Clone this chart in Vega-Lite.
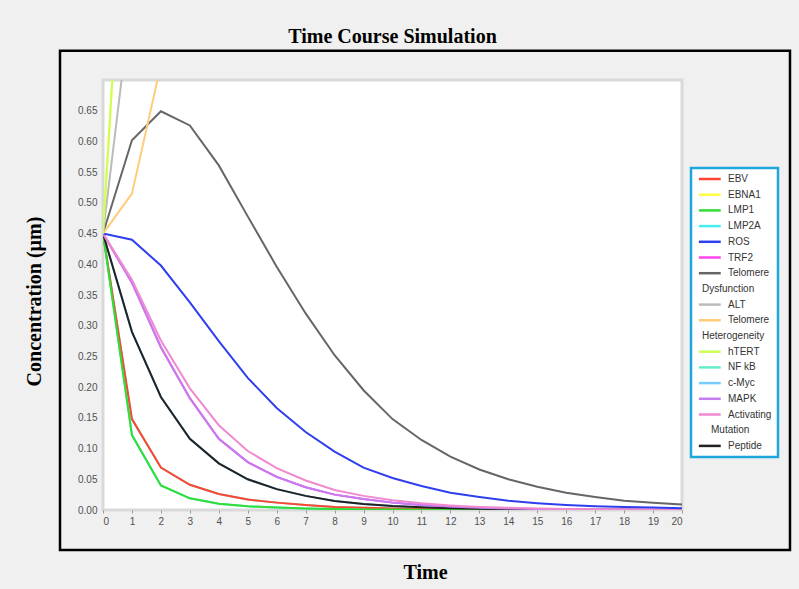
{
  "$schema": "https://vega.github.io/schema/vega-lite/v6.json",
  "autosize": {"type": "none"},
  "padding": {"left": 103, "top": 80, "right": 117, "bottom": 79},
  "width": 579,
  "height": 430,
  "background": "#f0f0f0",
  "title": {"text": "Time Course Simulation", "font": "Liberation Serif", "fontSize": 20, "fontWeight": "bold", "color": "#000000", "frame": "group", "anchor": "middle", "offset": 3},
  "config": {
    "view": {"fill": "#ffffff", "stroke": "#d9d9d9", "strokeWidth": 3},
    "axis": {"labelFont": "Liberation Sans", "labelFontSize": 10, "labelColor": "#505050", "labelOverlap": false, "titleFont": "Liberation Serif", "titleFontSize": 20, "titleFontWeight": "bold", "titleColor": "#000000", "grid": false, "domain": false}
  },
  "datasets": {
    "series": [
      {"s": "EBV", "t": 0, "v": 0.45}, {"s": "EBV", "t": 1, "v": 0.148}, {"s": "EBV", "t": 2, "v": 0.069}, {"s": "EBV", "t": 3, "v": 0.041}, {"s": "EBV", "t": 4, "v": 0.026}, {"s": "EBV", "t": 5, "v": 0.017}, {"s": "EBV", "t": 6, "v": 0.012}, {"s": "EBV", "t": 7, "v": 0.008}, {"s": "EBV", "t": 8, "v": 0.005}, {"s": "EBV", "t": 9, "v": 0.0035}, {"s": "EBV", "t": 10, "v": 0.0025}, {"s": "EBV", "t": 11, "v": 0.0018}, {"s": "EBV", "t": 12, "v": 0.0012}, {"s": "EBV", "t": 13, "v": 0.0008}, {"s": "EBV", "t": 14, "v": 0.0006}, {"s": "EBV", "t": 15, "v": 0.0004}, {"s": "EBV", "t": 16, "v": 0.0003}, {"s": "EBV", "t": 17, "v": 0.0002}, {"s": "EBV", "t": 18, "v": 0.0001}, {"s": "EBV", "t": 19, "v": 0.0001}, {"s": "EBV", "t": 20, "v": 0.0001},
      {"s": "NF kB", "t": 0, "v": 0.45}, {"s": "NF kB", "t": 1, "v": 0.148}, {"s": "NF kB", "t": 2, "v": 0.069}, {"s": "NF kB", "t": 3, "v": 0.041}, {"s": "NF kB", "t": 4, "v": 0.026}, {"s": "NF kB", "t": 5, "v": 0.017}, {"s": "NF kB", "t": 6, "v": 0.012}, {"s": "NF kB", "t": 7, "v": 0.008}, {"s": "NF kB", "t": 8, "v": 0.005}, {"s": "NF kB", "t": 9, "v": 0.0035}, {"s": "NF kB", "t": 10, "v": 0.0025}, {"s": "NF kB", "t": 11, "v": 0.0018}, {"s": "NF kB", "t": 12, "v": 0.0012}, {"s": "NF kB", "t": 13, "v": 0.0008}, {"s": "NF kB", "t": 14, "v": 0.0006}, {"s": "NF kB", "t": 15, "v": 0.0004}, {"s": "NF kB", "t": 16, "v": 0.0003}, {"s": "NF kB", "t": 17, "v": 0.0002}, {"s": "NF kB", "t": 18, "v": 0.0001}, {"s": "NF kB", "t": 19, "v": 0.0001}, {"s": "NF kB", "t": 20, "v": 0.0001},
      {"s": "LMP1", "t": 0, "v": 0.45}, {"s": "LMP1", "t": 1, "v": 0.122}, {"s": "LMP1", "t": 2, "v": 0.04}, {"s": "LMP1", "t": 3, "v": 0.019}, {"s": "LMP1", "t": 4, "v": 0.01}, {"s": "LMP1", "t": 5, "v": 0.006}, {"s": "LMP1", "t": 6, "v": 0.004}, {"s": "LMP1", "t": 7, "v": 0.0025}, {"s": "LMP1", "t": 8, "v": 0.0015}, {"s": "LMP1", "t": 9, "v": 0.001}, {"s": "LMP1", "t": 10, "v": 0.0007}, {"s": "LMP1", "t": 11, "v": 0.0005}, {"s": "LMP1", "t": 12, "v": 0.0003}, {"s": "LMP1", "t": 13, "v": 0.0002}, {"s": "LMP1", "t": 14, "v": 0.0001}, {"s": "LMP1", "t": 15, "v": 0.0001}, {"s": "LMP1", "t": 16, "v": 0}, {"s": "LMP1", "t": 17, "v": 0}, {"s": "LMP1", "t": 18, "v": 0}, {"s": "LMP1", "t": 19, "v": 0}, {"s": "LMP1", "t": 20, "v": 0},
      {"s": "LMP2A", "t": 0, "v": 0.45}, {"s": "LMP2A", "t": 1, "v": 0.122}, {"s": "LMP2A", "t": 2, "v": 0.04}, {"s": "LMP2A", "t": 3, "v": 0.019}, {"s": "LMP2A", "t": 4, "v": 0.01}, {"s": "LMP2A", "t": 5, "v": 0.006}, {"s": "LMP2A", "t": 6, "v": 0.004}, {"s": "LMP2A", "t": 7, "v": 0.0025}, {"s": "LMP2A", "t": 8, "v": 0.0015}, {"s": "LMP2A", "t": 9, "v": 0.001}, {"s": "LMP2A", "t": 10, "v": 0.0007}, {"s": "LMP2A", "t": 11, "v": 0.0005}, {"s": "LMP2A", "t": 12, "v": 0.0003}, {"s": "LMP2A", "t": 13, "v": 0.0002}, {"s": "LMP2A", "t": 14, "v": 0.0001}, {"s": "LMP2A", "t": 15, "v": 0.0001}, {"s": "LMP2A", "t": 16, "v": 0}, {"s": "LMP2A", "t": 17, "v": 0}, {"s": "LMP2A", "t": 18, "v": 0}, {"s": "LMP2A", "t": 19, "v": 0}, {"s": "LMP2A", "t": 20, "v": 0},
      {"s": "Peptide", "t": 0, "v": 0.45}, {"s": "Peptide", "t": 1, "v": 0.29}, {"s": "Peptide", "t": 2, "v": 0.184}, {"s": "Peptide", "t": 3, "v": 0.116}, {"s": "Peptide", "t": 4, "v": 0.076}, {"s": "Peptide", "t": 5, "v": 0.05}, {"s": "Peptide", "t": 6, "v": 0.034}, {"s": "Peptide", "t": 7, "v": 0.023}, {"s": "Peptide", "t": 8, "v": 0.0145}, {"s": "Peptide", "t": 9, "v": 0.0098}, {"s": "Peptide", "t": 10, "v": 0.0065}, {"s": "Peptide", "t": 11, "v": 0.0044}, {"s": "Peptide", "t": 12, "v": 0.003}, {"s": "Peptide", "t": 13, "v": 0.002}, {"s": "Peptide", "t": 14, "v": 0.0013}, {"s": "Peptide", "t": 15, "v": 0.0009}, {"s": "Peptide", "t": 16, "v": 0.0006}, {"s": "Peptide", "t": 17, "v": 0.0004}, {"s": "Peptide", "t": 18, "v": 0.0003}, {"s": "Peptide", "t": 19, "v": 0.0002}, {"s": "Peptide", "t": 20, "v": 0.0001},
      {"s": "c-Myc", "t": 0, "v": 0.45}, {"s": "c-Myc", "t": 1, "v": 0.29}, {"s": "c-Myc", "t": 2, "v": 0.184}, {"s": "c-Myc", "t": 3, "v": 0.116}, {"s": "c-Myc", "t": 4, "v": 0.076}, {"s": "c-Myc", "t": 5, "v": 0.05}, {"s": "c-Myc", "t": 6, "v": 0.034}, {"s": "c-Myc", "t": 7, "v": 0.023}, {"s": "c-Myc", "t": 8, "v": 0.0145}, {"s": "c-Myc", "t": 9, "v": 0.0098}, {"s": "c-Myc", "t": 10, "v": 0.0065}, {"s": "c-Myc", "t": 11, "v": 0.0044}, {"s": "c-Myc", "t": 12, "v": 0.003}, {"s": "c-Myc", "t": 13, "v": 0.002}, {"s": "c-Myc", "t": 14, "v": 0.0013}, {"s": "c-Myc", "t": 15, "v": 0.0009}, {"s": "c-Myc", "t": 16, "v": 0.0006}, {"s": "c-Myc", "t": 17, "v": 0.0004}, {"s": "c-Myc", "t": 18, "v": 0.0003}, {"s": "c-Myc", "t": 19, "v": 0.0002}, {"s": "c-Myc", "t": 20, "v": 0.0001},
      {"s": "MAPK", "t": 0, "v": 0.45}, {"s": "MAPK", "t": 1, "v": 0.37}, {"s": "MAPK", "t": 2, "v": 0.265}, {"s": "MAPK", "t": 3, "v": 0.182}, {"s": "MAPK", "t": 4, "v": 0.116}, {"s": "MAPK", "t": 5, "v": 0.078}, {"s": "MAPK", "t": 6, "v": 0.054}, {"s": "MAPK", "t": 7, "v": 0.037}, {"s": "MAPK", "t": 8, "v": 0.025}, {"s": "MAPK", "t": 9, "v": 0.018}, {"s": "MAPK", "t": 10, "v": 0.012}, {"s": "MAPK", "t": 11, "v": 0.008}, {"s": "MAPK", "t": 12, "v": 0.0055}, {"s": "MAPK", "t": 13, "v": 0.0037}, {"s": "MAPK", "t": 14, "v": 0.0025}, {"s": "MAPK", "t": 15, "v": 0.0017}, {"s": "MAPK", "t": 16, "v": 0.0012}, {"s": "MAPK", "t": 17, "v": 0.0008}, {"s": "MAPK", "t": 18, "v": 0.0005}, {"s": "MAPK", "t": 19, "v": 0.0004}, {"s": "MAPK", "t": 20, "v": 0.0003},
      {"s": "TRF2", "t": 0, "v": 0.45}, {"s": "TRF2", "t": 1, "v": 0.37}, {"s": "TRF2", "t": 2, "v": 0.265}, {"s": "TRF2", "t": 3, "v": 0.182}, {"s": "TRF2", "t": 4, "v": 0.116}, {"s": "TRF2", "t": 5, "v": 0.078}, {"s": "TRF2", "t": 6, "v": 0.054}, {"s": "TRF2", "t": 7, "v": 0.037}, {"s": "TRF2", "t": 8, "v": 0.025}, {"s": "TRF2", "t": 9, "v": 0.018}, {"s": "TRF2", "t": 10, "v": 0.012}, {"s": "TRF2", "t": 11, "v": 0.008}, {"s": "TRF2", "t": 12, "v": 0.0055}, {"s": "TRF2", "t": 13, "v": 0.0037}, {"s": "TRF2", "t": 14, "v": 0.0025}, {"s": "TRF2", "t": 15, "v": 0.0017}, {"s": "TRF2", "t": 16, "v": 0.0012}, {"s": "TRF2", "t": 17, "v": 0.0008}, {"s": "TRF2", "t": 18, "v": 0.0005}, {"s": "TRF2", "t": 19, "v": 0.0004}, {"s": "TRF2", "t": 20, "v": 0.0003},
      {"s": "Activating Mutation", "t": 0, "v": 0.45}, {"s": "Activating Mutation", "t": 1, "v": 0.375}, {"s": "Activating Mutation", "t": 2, "v": 0.276}, {"s": "Activating Mutation", "t": 3, "v": 0.198}, {"s": "Activating Mutation", "t": 4, "v": 0.138}, {"s": "Activating Mutation", "t": 5, "v": 0.096}, {"s": "Activating Mutation", "t": 6, "v": 0.068}, {"s": "Activating Mutation", "t": 7, "v": 0.048}, {"s": "Activating Mutation", "t": 8, "v": 0.0325}, {"s": "Activating Mutation", "t": 9, "v": 0.023}, {"s": "Activating Mutation", "t": 10, "v": 0.016}, {"s": "Activating Mutation", "t": 11, "v": 0.011}, {"s": "Activating Mutation", "t": 12, "v": 0.0075}, {"s": "Activating Mutation", "t": 13, "v": 0.005}, {"s": "Activating Mutation", "t": 14, "v": 0.0035}, {"s": "Activating Mutation", "t": 15, "v": 0.0024}, {"s": "Activating Mutation", "t": 16, "v": 0.0016}, {"s": "Activating Mutation", "t": 17, "v": 0.0011}, {"s": "Activating Mutation", "t": 18, "v": 0.0008}, {"s": "Activating Mutation", "t": 19, "v": 0.0005}, {"s": "Activating Mutation", "t": 20, "v": 0.0004},
      {"s": "ROS", "t": 0, "v": 0.45}, {"s": "ROS", "t": 1, "v": 0.44}, {"s": "ROS", "t": 2, "v": 0.398}, {"s": "ROS", "t": 3, "v": 0.338}, {"s": "ROS", "t": 4, "v": 0.275}, {"s": "ROS", "t": 5, "v": 0.215}, {"s": "ROS", "t": 6, "v": 0.166}, {"s": "ROS", "t": 7, "v": 0.127}, {"s": "ROS", "t": 8, "v": 0.095}, {"s": "ROS", "t": 9, "v": 0.069}, {"s": "ROS", "t": 10, "v": 0.052}, {"s": "ROS", "t": 11, "v": 0.039}, {"s": "ROS", "t": 12, "v": 0.028}, {"s": "ROS", "t": 13, "v": 0.021}, {"s": "ROS", "t": 14, "v": 0.015}, {"s": "ROS", "t": 15, "v": 0.011}, {"s": "ROS", "t": 16, "v": 0.008}, {"s": "ROS", "t": 17, "v": 0.006}, {"s": "ROS", "t": 18, "v": 0.005}, {"s": "ROS", "t": 19, "v": 0.004}, {"s": "ROS", "t": 20, "v": 0.003},
      {"s": "Telomere Dysfunction", "t": 0, "v": 0.45}, {"s": "Telomere Dysfunction", "t": 1, "v": 0.602}, {"s": "Telomere Dysfunction", "t": 2, "v": 0.649}, {"s": "Telomere Dysfunction", "t": 3, "v": 0.626}, {"s": "Telomere Dysfunction", "t": 4, "v": 0.561}, {"s": "Telomere Dysfunction", "t": 5, "v": 0.478}, {"s": "Telomere Dysfunction", "t": 6, "v": 0.396}, {"s": "Telomere Dysfunction", "t": 7, "v": 0.32}, {"s": "Telomere Dysfunction", "t": 8, "v": 0.252}, {"s": "Telomere Dysfunction", "t": 9, "v": 0.195}, {"s": "Telomere Dysfunction", "t": 10, "v": 0.148}, {"s": "Telomere Dysfunction", "t": 11, "v": 0.114}, {"s": "Telomere Dysfunction", "t": 12, "v": 0.087}, {"s": "Telomere Dysfunction", "t": 13, "v": 0.066}, {"s": "Telomere Dysfunction", "t": 14, "v": 0.05}, {"s": "Telomere Dysfunction", "t": 15, "v": 0.038}, {"s": "Telomere Dysfunction", "t": 16, "v": 0.028}, {"s": "Telomere Dysfunction", "t": 17, "v": 0.021}, {"s": "Telomere Dysfunction", "t": 18, "v": 0.015}, {"s": "Telomere Dysfunction", "t": 19, "v": 0.012}, {"s": "Telomere Dysfunction", "t": 20, "v": 0.009},
      {"s": "Telomere Heterogeneity", "t": 0, "v": 0.45}, {"s": "Telomere Heterogeneity", "t": 1, "v": 0.515}, {"s": "Telomere Heterogeneity", "t": 2, "v": 0.725},
      {"s": "ALT", "t": 0, "v": 0.45}, {"s": "ALT", "t": 1, "v": 0.84},
      {"s": "EBNA1", "t": 0, "v": 0.45}, {"s": "EBNA1", "t": 1, "v": 1.23},
      {"s": "hTERT", "t": 0, "v": 0.45}, {"s": "hTERT", "t": 1, "v": 1.23}
    ]
  },
  "data": {"name": "series"},
  "layer": [
    {
      "mark": {"type": "rect", "fill": null, "fillOpacity": 0, "stroke": "#000000", "strokeWidth": 2.5, "clip": false},
      "data": {"values": [{"frame": 1}]},
      "encoding": {
        "x": {"datum": -1.485, "type": "quantitative", "scale": {"domain": [0, 20], "nice": false},
          "axis": {"title": "Time", "values": [0,1,2,3,4,5,6,7,8,9,10,11,12,13,14,15,16,17,18,19,20], "format": "d", "labelOverlap": false, "tickColor": "#999999", "tickSize": 3, "labelPadding": 3, "titlePadding": 36, "titleX": 322}},
        "x2": {"datum": 23.73},
        "y": {"datum": 0.7475, "type": "quantitative", "scale": {"domain": [0, 0.7], "nice": false},
          "axis": {"title": "Concentration (µm)", "values": [0,0.05,0.1,0.15,0.2,0.25,0.3,0.35,0.4,0.45,0.5,0.55,0.6,0.65], "format": ".2f", "labelOverlap": false, "ticks": false, "labelPadding": 6, "titlePadding": 33, "titleY": 221}},
        "y2": {"datum": -0.065}
      }
    },
    {
      "transform": [{"filter": "indexof(['EBNA1','LMP2A','TRF2','NF kB','c-Myc'], datum.s) >= 0"}],
      "mark": {"type": "line", "strokeWidth": 2, "clip": true},
      "encoding": {
        "x": {"field": "t", "type": "quantitative",
          "axis": {"title": "Time", "values": [0,1,2,3,4,5,6,7,8,9,10,11,12,13,14,15,16,17,18,19,20], "format": "d", "labelOverlap": false, "tickColor": "#999999", "tickSize": 3, "labelPadding": 3, "titlePadding": 36, "titleX": 322}},
        "y": {"field": "v", "type": "quantitative",
          "axis": {"title": "Concentration (µm)", "values": [0,0.05,0.1,0.15,0.2,0.25,0.3,0.35,0.4,0.45,0.5,0.55,0.6,0.65], "format": ".2f", "labelOverlap": false, "ticks": false, "labelPadding": 6, "titlePadding": 33, "titleY": 221}},
        "color": {"field": "s", "type": "nominal"}
      }
    },
    {
      "transform": [{"filter": "indexof(['EBNA1','LMP2A','TRF2','NF kB','c-Myc'], datum.s) < 0"}],
      "mark": {"type": "line", "strokeWidth": 2, "clip": true},
      "encoding": {
        "x": {"field": "t", "type": "quantitative", "scale": {"domain": [0, 20], "nice": false},
          "axis": {"title": "Time", "values": [0,1,2,3,4,5,6,7,8,9,10,11,12,13,14,15,16,17,18,19,20], "format": "d", "labelOverlap": false, "tickColor": "#999999", "tickSize": 3, "labelPadding": 3, "titlePadding": 36, "titleX": 322}},
        "y": {"field": "v", "type": "quantitative", "scale": {"domain": [0, 0.7], "nice": false},
          "axis": {"title": "Concentration (µm)", "values": [0,0.05,0.1,0.15,0.2,0.25,0.3,0.35,0.4,0.45,0.5,0.55,0.6,0.65], "format": ".2f", "labelOverlap": false, "ticks": false, "labelPadding": 6, "titlePadding": 33, "titleY": 221}},
        "color": {
          "field": "s", "type": "nominal",
          "scale": {
            "domain": ["EBV","EBNA1","LMP1","LMP2A","ROS","TRF2","Telomere Dysfunction","Dysfunction","ALT","Telomere Heterogeneity","Heterogeneity","hTERT","NF kB","c-Myc","MAPK","Activating Mutation","Mutation","Peptide"],
            "range": ["#ff4433","#ffff44","#33dd33","#44eeee","#2f3fee","#ff44ee","#666666","transparent","#bbbbbb","#ffcc77","transparent","#ccff55","#66eecc","#77ccff","#c47cf0","#f08ad0","transparent","#222222"]
          },
          "legend": {
            "title": null, "orient": "none", "legendX": 588, "legendY": 88,
            "symbolType": "M-1,0H6", "symbolSize": 39, "symbolStrokeWidth": 2.5,
            "labelFont": "Liberation Sans", "labelFontSize": 10, "labelColor": "#333333", "labelOffset": 21,
            "rowPadding": 5.7, "padding": 6, "strokeColor": "#1ea7dc", "fillColor": "#ffffff",
            "labelExpr": "datum.label == 'Telomere Dysfunction' || datum.label == 'Telomere Heterogeneity' ? 'Telomere' : datum.label == 'Activating Mutation' ? 'Activating' : datum.label",
            "encode": {"labels": {"update": {"dx": {"signal": "datum.value == 'Dysfunction' || datum.value == 'Heterogeneity' ? -26 : datum.value == 'Mutation' ? -17 : 0"}}}, "legend": {"update": {"strokeWidth": {"value": 2.5}}}}
          }
        }
      }
    }
  ]
}
